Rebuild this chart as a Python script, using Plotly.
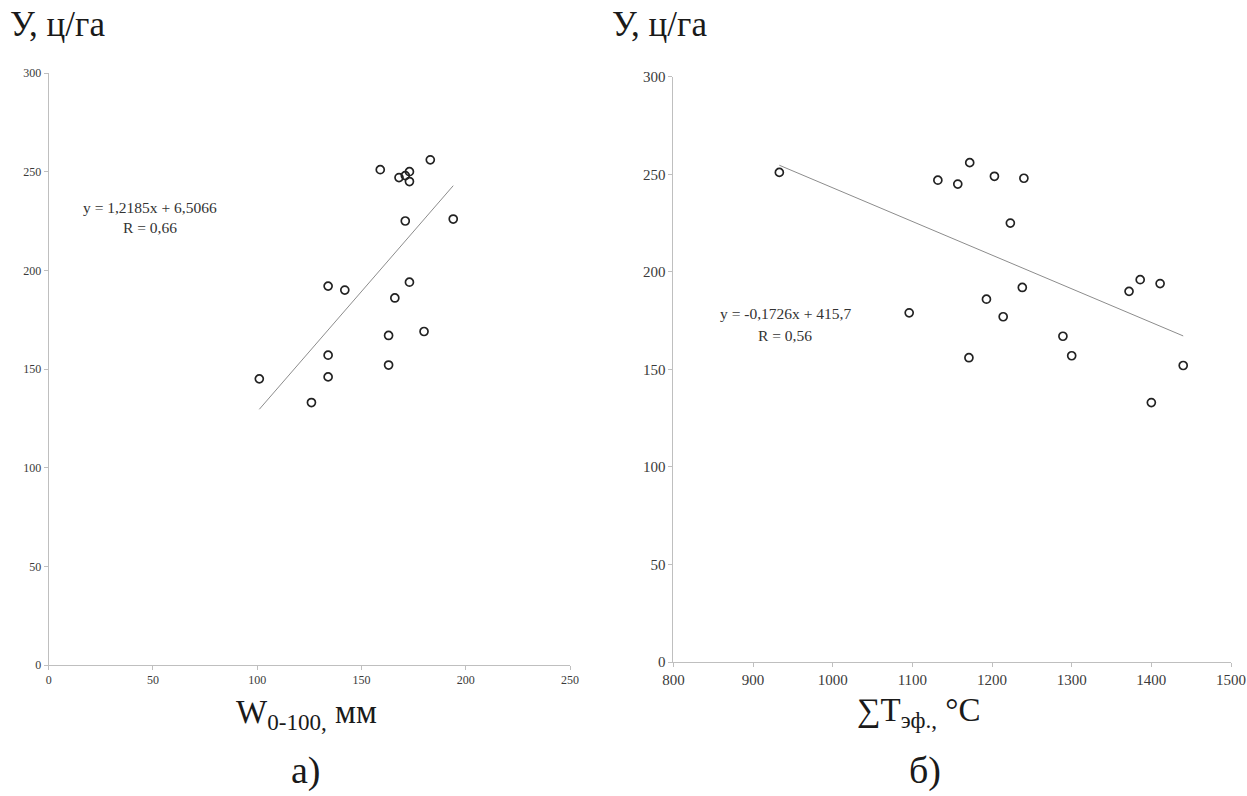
import plotly.graph_objects as go

# ---- data: panel a) ----
w_mm = [101, 126, 134, 134, 134, 142, 159, 163, 163, 166, 168, 171, 171, 173, 173, 173, 180, 183, 194]
yield_a = [145, 133, 192, 157, 146, 190, 251, 167, 152, 186, 247, 248, 225, 250, 245, 194, 169, 256, 226]
slope_a, icpt_a = 1.2185, 6.5066

# ---- data: panel б) ----
t_sum = [933, 1096, 1132, 1157, 1171, 1172, 1193, 1203, 1214, 1223, 1238, 1240, 1289, 1300, 1372, 1386, 1400, 1411, 1440]
yield_b = [251, 179, 247, 245, 156, 256, 186, 249, 177, 225, 192, 248, 167, 157, 190, 196, 133, 194, 152]
slope_b, icpt_b = -0.1726, 415.7

xticks_a = [0, 50, 100, 150, 200, 250]
xticks_b = [800, 900, 1000, 1100, 1200, 1300, 1400, 1500]
yticks = [0, 50, 100, 150, 200, 250, 300]

W, H = 1247, 796
SERIF = "Liberation Serif"
AX = "#bfbfbf"

fig = go.Figure()

marker = dict(symbol="circle-open", size=8, color="#222222", line=dict(width=1.7, color="#222222"))

fig.add_trace(go.Scatter(x=w_mm, y=yield_a, mode="markers", marker=marker,
                         xaxis="x", yaxis="y", showlegend=False))
xa = [min(w_mm), max(w_mm)]
fig.add_trace(go.Scatter(x=xa, y=[slope_a * v + icpt_a for v in xa], mode="lines",
                         line=dict(color="#8c8c8c", width=1), xaxis="x", yaxis="y", showlegend=False))

fig.add_trace(go.Scatter(x=t_sum, y=yield_b, mode="markers", marker=marker,
                         xaxis="x2", yaxis="y2", showlegend=False))
xb = [min(t_sum), max(t_sum)]
fig.add_trace(go.Scatter(x=xb, y=[slope_b * v + icpt_b for v in xb], mode="lines",
                         line=dict(color="#8c8c8c", width=1), xaxis="x2", yaxis="y2", showlegend=False))

def axis(domain, rng, ticks, anchor, fsize):
    return dict(domain=domain, range=rng, tickvals=ticks, ticktext=[str(t) for t in ticks],
                showgrid=False, zeroline=False, showline=True, linecolor=AX, linewidth=1,
                ticks="outside", ticklen=4, tickcolor=AX, anchor=anchor, automargin=False,
                tickfont=dict(family=SERIF, size=fsize, color="#3a3a3a"), fixedrange=True)

fig.update_layout(
    width=W, height=H,
    margin=dict(l=0, r=0, t=0, b=0, pad=0, autoexpand=False),
    paper_bgcolor="white", plot_bgcolor="white",
    xaxis=axis([48.7 / W, 570 / W], [0, 250], xticks_a, "y", 12),
    yaxis=axis([(H - 665) / H, (H - 73) / H], [0, 300], yticks, "x", 12),
    xaxis2=axis([673.4 / W, 1231 / W], [800, 1500], xticks_b, "y2", 15),
    yaxis2=axis([(H - 662) / H, (H - 76.8) / H], [0, 300], yticks, "x2", 15),
)

ytit = dict(family=SERIF, size=35, color="#1a1a1a")
xtit = dict(family=SERIF, size=33, color="#1a1a1a")
lab = dict(family=SERIF, size=38, color="#1a1a1a")
eq = dict(family=SERIF, size=15.5, color="#333333")
anns = [
    dict(x=8 / W, y=1 - 24 / H, text="У, ц/га", xanchor="left", font=ytit),
    dict(x=610 / W, y=1 - 24 / H, text="У, ц/га", xanchor="left", font=ytit),
    dict(x=306 / W, y=1 - 714 / H, text="W<sub>0-100,</sub> мм", xanchor="center", font=xtit),
    dict(x=918 / W, y=1 - 712 / H, text="∑T<sub>эф.,</sub> °C", xanchor="center", font=xtit),
    dict(x=306 / W, y=1 - 770 / H, text="а)", xanchor="center", font=lab),
    dict(x=925 / W, y=1 - 770 / H, text="б)", xanchor="center", font=lab),
    dict(x=150 / W, y=1 - 207 / H, text="y = 1,2185x + 6,5066", xanchor="center", font=eq),
    dict(x=150 / W, y=1 - 227 / H, text="R = 0,66", xanchor="center", font=eq),
    dict(x=785 / W, y=1 - 313 / H, text="y = -0,1726x + 415,7", xanchor="center", font=eq),
    dict(x=785 / W, y=1 - 335 / H, text="R = 0,56", xanchor="center", font=eq),
]
for a in anns:
    a.update(xref="paper", yref="paper", yanchor="middle", showarrow=False)
fig.update_layout(annotations=anns)

fig.write_html("out.html")
